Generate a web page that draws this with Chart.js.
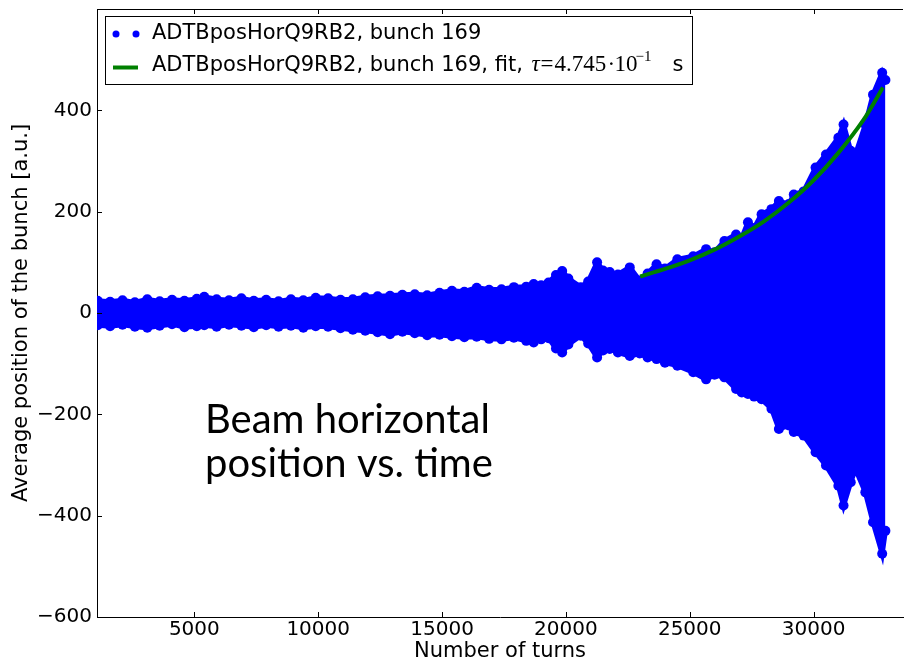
<!DOCTYPE html>
<html>
<head>
<meta charset="utf-8">
<script src="https://cdn.jsdelivr.net/npm/chart.js@4.4.1/dist/chart.umd.min.js"></script>
<style>
  html, body { margin: 0; padding: 0; background: #fff; }
  #wrap { width: 908px; height: 660px; }
</style>
</head>
<body>
<div id="wrap"><canvas id="beamChart" width="908" height="660"></canvas></div>
<script>
// turns where the edge of the point cloud was read
const turns = [900, 1100, 1600, 2100, 2600, 3100, 3600, 4100, 4600, 5100, 5400, 5900, 6400, 6900, 7400, 7900,
  8400, 8900, 9400, 9900, 10400, 10900, 11400, 11900, 12400, 12900, 13400, 13900, 14400, 14900, 15400,
  15900, 16400, 16900, 17400, 17900, 18400, 18700, 19000, 19300, 19600, 19850, 20100, 20600, 20900,
  21260, 21500, 21770, 22100, 22580, 22980, 23300, 23660, 24000, 24500, 25140, 25660, 26000, 26400,
  26870, 27100, 27350, 27600, 27900, 28300, 28600, 29000, 29200, 29600, 30080, 30500, 31000, 31210,
  31500, 31690, 32090, 32400, 32770, 32900];
// upper / lower edge of the bunch position cloud [a.u.]
const upperEdge = [23, 24, 22, 25, 21, 27, 23, 26, 24, 28, 32, 27, 25, 29, 24, 26,
  23, 27, 25, 30, 29, 26, 27, 31, 33, 34, 36, 37, 35, 40, 44,
  42, 50, 46, 47, 51, 52, 57, 55, 60, 75, 83, 68, 51, 62,
  100, 84, 81, 76, 90, 64, 78, 96, 88, 106, 112, 126, 120, 142,
  155, 148, 179, 168, 195, 205, 221, 215, 234, 240, 287, 313, 346, 372,
  320, 313, 372, 431, 474, 460];
const lowerEdge = [-25, -24, -26, -23, -27, -29, -25, -22, -28, -26, -24, -27, -23, -25, -28, -24,
  -27, -25, -29, -26, -27, -30, -33, -35, -38, -42, -37, -40, -44, -43, -46,
  -48, -47, -51, -52, -49, -55, -58, -52, -50, -70, -78, -62, -45, -60,
  -88, -74, -71, -78, -85, -80, -88, -91, -98, -104, -117, -131, -122, -127,
  -150, -157, -160, -165, -170, -189, -229, -222, -235, -242, -275, -301, -341, -380,
  -334, -308, -354, -413, -475, -430];
// exponential fit curve
const fitTurns = [23000, 24000, 25000, 26000, 27000, 28000, 29000, 30000, 31000, 32000, 32800];
const fitValues = [72, 87, 104, 125, 151, 181, 218, 262, 316, 380, 445];

const xTicks = [5000, 10000, 15000, 20000, 25000, 30000];
const yTicks = [-600, -400, -200, 0, 200, 400];

const bunchLabel = 'ADTBposHorQ9RB2, bunch 169';
const fitLabel = 'ADTBposHorQ9RB2, bunch 169, fit, ';
const xTitle = 'Number of turns';
const yTitle = 'Average position of the bunch [a.u.]';
const noteLines = ['Beam horizontal', 'position vs. time'];

const BLUE = '#0000ff';
const GREEN = '#008000';

const toPoints = (xs, ys) => xs.map((x, i) => ({ x: x, y: ys[i] }));

// frame, inward ticks, titles, legend and the note
const decorations = {
  id: 'decorations',
  afterDraw(chart) {
    const ctx = chart.ctx;
    const a = chart.chartArea;
    const xs = chart.scales.x, ys = chart.scales.y;
    ctx.save();
    ctx.strokeStyle = '#000';
    ctx.lineWidth = 1;
    ctx.beginPath();
    ctx.moveTo(a.left, a.top + 0.5);
    ctx.lineTo(a.right, a.top + 0.5);
    xTicks.forEach(v => {
      const px = Math.round(xs.getPixelForValue(v)) + 0.5;
      ctx.moveTo(px, a.bottom); ctx.lineTo(px, a.bottom - 5);
      ctx.moveTo(px, a.top); ctx.lineTo(px, a.top + 5);
    });
    yTicks.forEach(v => {
      const py = Math.round(ys.getPixelForValue(v)) + 0.5;
      ctx.moveTo(a.left, py); ctx.lineTo(a.left + 5, py);
    });
    ctx.stroke();

    // axis titles
    ctx.fillStyle = '#000';
    ctx.font = '21px "DejaVu Sans"';
    ctx.textAlign = 'center';
    ctx.textBaseline = 'alphabetic';
    ctx.fillText(xTitle, (a.left + a.right) / 2, 657);
    ctx.save();
    ctx.translate(27, (a.top + a.bottom) / 2);
    ctx.rotate(-Math.PI / 2);
    ctx.fillText(yTitle, 0, 0);
    ctx.restore();

    // legend
    ctx.fillStyle = '#fff';
    ctx.fillRect(105, 16, 587, 68);
    ctx.strokeRect(105.5, 16.5, 587, 68);
    ctx.fillStyle = BLUE;
    [116, 136].forEach(cx => {
      ctx.beginPath(); ctx.arc(cx, 34, 3.5, 0, 2 * Math.PI); ctx.fill();
    });
    ctx.strokeStyle = GREEN;
    ctx.lineWidth = 4;
    ctx.beginPath(); ctx.moveTo(113, 67.5); ctx.lineTo(138, 67.5); ctx.stroke();

    ctx.fillStyle = '#000';
    ctx.textAlign = 'left';
    ctx.font = '21px "DejaVu Sans"';
    ctx.fillText(chart.data.datasets[0].label, 152, 39);
    ctx.fillText(fitLabel, 152, 71);
    const t = 152 + ctx.measureText(fitLabel).width + 2;
    ctx.font = 'italic 23px "Liberation Serif"';
    ctx.fillText('\u03c4', t, 71);
    ctx.font = '23px "Liberation Serif"';
    ctx.fillText('=', t + 9, 71);
    ctx.fillText('4.745', t + 23, 71);
    ctx.fillText('\u00b7', t + 76, 71);
    ctx.fillText('10', t + 83, 71);
    ctx.font = '15px "Liberation Serif"';
    ctx.fillText('\u22121', t + 104, 61);
    ctx.font = '21px "DejaVu Sans"';
    ctx.fillText('s', t + 141, 71);

    // note
    ctx.font = '40px Lato';
    ctx.fillText(noteLines[0], 205, 433);
    ctx.fillText(noteLines[1], 205, 477);
    ctx.restore();
  }
};

const bandStyle = {
  borderColor: BLUE,
  backgroundColor: BLUE,
  borderWidth: 5,
  pointRadius: 5,
  pointBackgroundColor: BLUE,
  pointBorderWidth: 0,
  tension: 0,
  clip: 0,
  order: 1
};

const ctx = document.getElementById('beamChart').getContext('2d');
const beamChart = new Chart(ctx, {
  type: 'line',
  data: {
    datasets: [
      Object.assign({ label: bunchLabel, data: toPoints(turns, upperEdge), fill: '+1' }, bandStyle),
      Object.assign({ label: bunchLabel, data: toPoints(turns, lowerEdge), fill: false }, bandStyle),
      {
        label: fitLabel,
        data: toPoints(fitTurns, fitValues),
        borderColor: GREEN,
        borderWidth: 4,
        pointRadius: 0,
        fill: false,
        tension: 0.3,
        clip: 0,
        order: 0
      }
    ]
  },
  options: {
    responsive: false,
    animation: false,
    events: [],
    devicePixelRatio: 1,
    layout: { padding: { top: 9, right: 0, left: 0, bottom: 0 } },
    scales: {
      x: {
        type: 'linear',
        min: 1070,
        max: 33610,
        afterBuildTicks: s => { s.ticks = xTicks.map(v => ({ value: v })); },
        afterFit: s => { s.height = 43; s.paddingLeft = 0; s.paddingRight = 0; },
        grid: { display: false, drawTicks: false },
        border: { display: true, color: '#000', width: 1 },
        ticks: {
          padding: 1,
          color: '#000',
          maxRotation: 0,
          font: { family: '"DejaVu Sans"', size: 20 },
          callback: v => String(v)
        }
      },
      y: {
        type: 'linear',
        min: -600,
        max: 600,
        afterBuildTicks: s => { s.ticks = yTicks.map(v => ({ value: v })); },
        afterFit: s => { s.width = 97; s.paddingTop = 0; s.paddingBottom = 0; },
        grid: { display: false, drawTicks: false },
        border: { display: true, color: '#000', width: 1 },
        ticks: {
          padding: 5,
          color: '#000',
          font: { family: '"DejaVu Sans"', size: 20 },
          callback: v => v < 0 ? '\u2212' + Math.abs(v) : String(v)
        }
      }
    },
    plugins: {
      legend: { display: false },
      tooltip: { enabled: false }
    }
  },
  plugins: [decorations]
});
</script>
</body>
</html>
